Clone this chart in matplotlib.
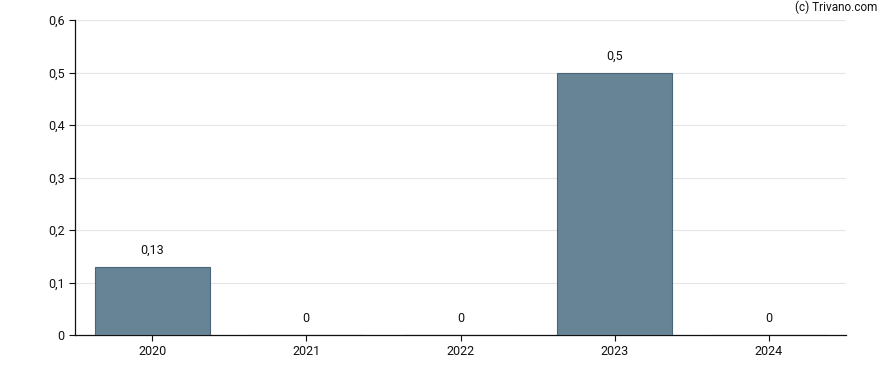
import matplotlib
matplotlib.use("Agg")
import matplotlib.pyplot as plt

years = ["2020", "2021", "2022", "2023", "2024"]
values = [0.13, 0, 0, 0.5, 0]
labels = ["0,13", "0", "0", "0,5", "0"]
yticks = [0, 0.1, 0.2, 0.3, 0.4, 0.5, 0.6]
ytick_labels = ["0", "0,1", "0,2", "0,3", "0,4", "0,5", "0,6"]

plt.rcParams['font.family'] = ['Roboto', 'DejaVu Sans']

fig = plt.figure(figsize=(8.88, 3.70), dpi=100)
ax = fig.add_axes([75/888, 35/370, 771/888, 315/370])

x = list(range(len(years)))
ax.bar(x, values, width=0.745, color="#678497", edgecolor="#4a6478", linewidth=0.8, zorder=3)
for xi, v, lab in zip(x, values, labels):
    ax.annotate(lab, (xi, v), xytext=(0, 7), textcoords="offset points",
                ha="center", va="bottom", fontsize=9, color="#111111")

ax.set_xlim(-0.5, len(years) - 0.5)
ax.set_ylim(0, 0.6)
ax.set_yticks(yticks)
ax.set_yticklabels(ytick_labels)
ax.set_xticks(x)
ax.set_xticklabels(years)
ax.tick_params(axis="both", labelsize=9, colors="#111111", length=4, width=0.8)
ax.grid(axis="y", color="#e6e6e6", linewidth=0.8, zorder=0)
ax.set_axisbelow(True)
for s in ["top", "right"]:
    ax.spines[s].set_visible(False)
for s in ["left", "bottom"]:
    ax.spines[s].set_color("#111111")
    ax.spines[s].set_linewidth(0.9)

fig.text(877/888, 1 - 7/370, "(c) Trivano.com", ha="right", va="center", fontsize=8.5, color="#111111")

fig.savefig("out.png", dpi=100)
